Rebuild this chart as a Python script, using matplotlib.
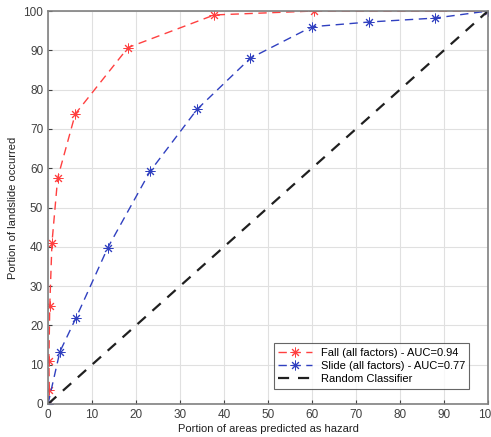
import matplotlib
matplotlib.use("Agg")
import matplotlib.pyplot as plt

fall_x = [0, 0.3, 0.2, 0.4, 0.9, 2.2, 6.2, 18.2, 37.8, 60.5, 100]
fall_y = [0, 3.5, 11, 25, 41, 57.5, 73.8, 90.7, 99, 100, 100]
slide_x = [0, 2.7, 6.4, 13.6, 23.2, 33.9, 46, 60, 73, 88, 100]
slide_y = [0, 13.3, 22, 39.8, 59.2, 75, 88, 96, 97.2, 98.2, 100]
rand_x = [0, 100]
rand_y = [0, 100]
labels = ["Fall (all factors) - AUC=0.94", "Slide (all factors) - AUC=0.77", "Random Classifier"]

plt.rcParams['font.family'] = ['Liberation Sans', 'DejaVu Sans']
fig = plt.figure(figsize=(4.91, 4.37), dpi=100)
ax = fig.add_axes([48/491, 1-404/437, 440/491, 393/437])

ast = (8, 2, 0)
ax.plot(fall_x, fall_y, color='#ff4040', ls=(0, (6, 4)), lw=1, marker=ast, ms=7, mew=0.7, label=labels[0])
ax.plot(slide_x, slide_y, color='#3040c0', ls=(0, (6, 4)), lw=1, marker=ast, ms=7, mew=0.7, label=labels[1])
ax.plot(rand_x, rand_y, color='#202020', ls=(0, (5, 4)), lw=1.6, label=labels[2])

ax.set_xlim(0, 100)
ax.set_ylim(0, 100)
ax.set_xticks(range(0, 101, 10))
ax.set_yticks(range(0, 101, 10))
ax.grid(True, color='#e0e0e0', lw=0.8)
ax.tick_params(direction='in', labelsize=8.5, colors='#404040', length=3)
for s in ax.spines.values():
    s.set_color('#808080')
    s.set_linewidth(1.2)
ax.set_xlabel("Portion of areas predicted as hazard", fontsize=8, color='#202020', labelpad=2)
ax.set_ylabel("Portion of landslide occurred", fontsize=8, color='#202020', labelpad=4)
leg = ax.legend(loc='lower right', fontsize=8, frameon=True, fancybox=False, edgecolor='#404040',
                handlelength=3, borderpad=0.4, labelspacing=0.3, bbox_to_anchor=(0.97, 0.025))
leg.get_frame().set_linewidth(0.8)
fig.savefig("out.png", dpi=100)
